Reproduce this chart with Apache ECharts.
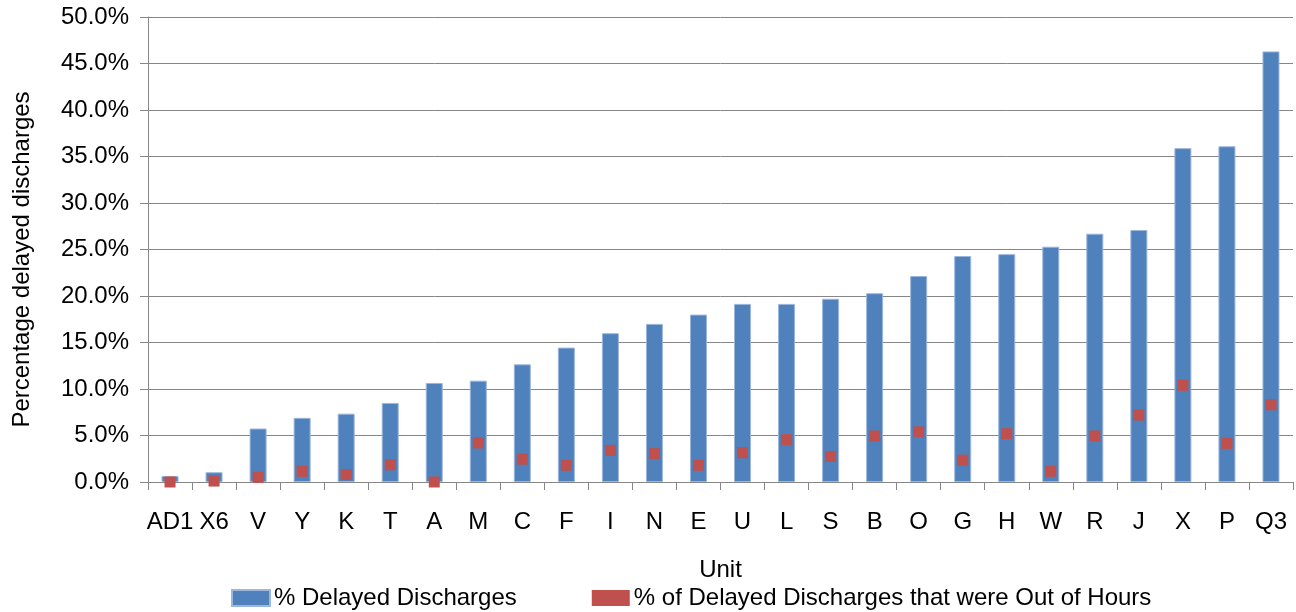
<!DOCTYPE html>
<html>
<head>
<meta charset="utf-8">
<title>Delayed discharges by unit</title>
<script src="https://cdn.jsdelivr.net/npm/echarts@6/dist/echarts.min.js"></script>
<style>
  html, body { margin: 0; padding: 0; background: #ffffff; }
  #chart { width: 1296px; height: 612px; }
</style>
</head>
<body>
<div id="chart"></div>
<script>
// Units, ordered by share of delayed discharges
const units = ['AD1', 'X6', 'V', 'Y', 'K', 'T', 'A', 'M', 'C', 'F', 'I', 'N', 'E',
  'U', 'L', 'S', 'B', 'O', 'G', 'H', 'W', 'R', 'J', 'X', 'P', 'Q3'];

// % Delayed Discharges
const delayedPct = [0.65, 1.05, 5.75, 6.9, 7.35, 8.5, 10.65, 10.9, 12.65, 14.45, 16.0, 17.0, 18.0,
  19.15, 19.15, 19.7, 20.3, 22.15, 24.3, 24.5, 25.3, 26.7, 27.1, 35.9, 36.1, 46.3];

// % of Delayed Discharges that were Out of Hours
const outOfHoursPct = [0.0, 0.1, 0.5, 1.15, 0.8, 1.85, 0.0, 4.2, 2.45, 1.8, 3.4, 3.05, 1.8,
  3.15, 4.55, 2.75, 4.95, 5.4, 2.35, 5.2, 1.15, 4.95, 7.2, 10.4, 4.15, 8.3];

const seriesNames = ['% Delayed Discharges', '% of Delayed Discharges that were Out of Hours'];

const FONT = "'Liberation Sans', Arial, sans-serif";
const FONT_SIZE = 24;
const AXIS_GREY = '#868686';
const TEXT = '#000000';

const chart = echarts.init(document.getElementById('chart'), null, { renderer: 'canvas' });

chart.setOption({
  animation: false,
  backgroundColor: '#ffffff',
  textStyle: { fontFamily: FONT, color: TEXT },
  grid: { left: 148, right: 3, top: 17, bottom: 130, containLabel: false },
  legend: {
    left: 226,
    top: 581,
    itemWidth: 38,
    itemHeight: 16,
    itemGap: 75,
    icon: 'rect',
    textStyle: { fontFamily: FONT, fontSize: FONT_SIZE, color: TEXT, padding: [0, 0, 0, -1] },
    data: seriesNames
  },
  xAxis: {
    type: 'category',
    data: units,
    name: 'Unit',
    nameLocation: 'middle',
    nameGap: 76,
    nameTextStyle: { fontFamily: FONT, fontSize: FONT_SIZE, color: TEXT },
    axisLine: { show: true, lineStyle: { color: AXIS_GREY, width: 1 } },
    axisTick: { show: true, length: 8, lineStyle: { color: AXIS_GREY } },
    axisLabel: { interval: 0, margin: 28, fontFamily: FONT, fontSize: FONT_SIZE, color: TEXT },
    splitLine: { show: false }
  },
  yAxis: {
    type: 'value',
    min: 0,
    max: 50,
    interval: 5,
    name: 'Percentage delayed discharges',
    nameLocation: 'middle',
    nameGap: 114,
    nameRotate: 90,
    nameTextStyle: { fontFamily: FONT, fontSize: FONT_SIZE, color: TEXT, padding: [0, 20, 0, 0] },
    axisLine: { show: true, lineStyle: { color: AXIS_GREY, width: 1 } },
    axisTick: { show: true, inside: false, length: 8, lineStyle: { color: AXIS_GREY } },
    axisLabel: {
      margin: 19,
      fontFamily: FONT,
      fontSize: FONT_SIZE,
      color: TEXT,
      formatter: v => v.toFixed(1) + '%'
    },
    splitLine: { show: true, lineStyle: { color: AXIS_GREY, width: 1 } }
  },
  series: [
    {
      name: seriesNames[0],
      type: 'bar',
      data: delayedPct,
      barWidth: 17,
      itemStyle: { color: '#4F81BD', borderColor: '#9CB6DC', borderWidth: 1 },
      z: 2
    },
    {
      name: seriesNames[1],
      type: 'scatter',
      data: outOfHoursPct,
      symbol: 'rect',
      symbolSize: 11,
      itemStyle: { color: '#C0504D', opacity: 1 },
      z: 3
    }
  ]
});
</script>
</body>
</html>
